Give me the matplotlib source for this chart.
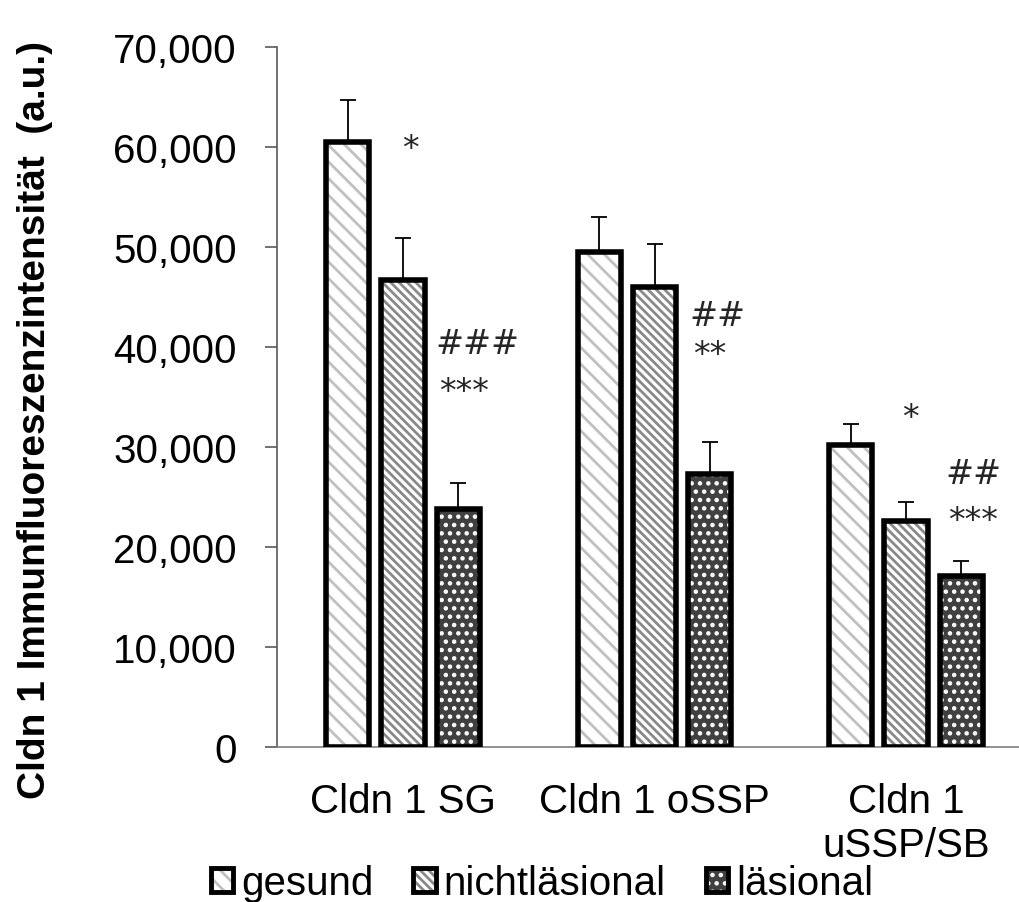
import numpy as np
import matplotlib
matplotlib.use("Agg")
import matplotlib.pyplot as plt
from matplotlib.patches import Patch
from matplotlib.legend_handler import HandlerTuple
from matplotlib.ticker import StrMethodFormatter

# ---------------------------
# Data
# ---------------------------
groups = ["Cldn 1 SG", "Cldn 1 oSSP", "Cldn 1\nuSSP/SB"]
series = ["gesund", "nichtläsional", "läsional"]

gesund = [60550, 49550, 30250]
nichtlaesional = [46750, 46050, 22650]
laesional = [23850, 27300, 17100]

err_gesund = [4150, 3500, 2050]
err_nichtlaesional = [4150, 4250, 1850]
err_laesional = [2550, 3200, 1500]

# significance marks: (group, x offset, y, text)
marks = [
    (0, 0.028, 59800, "*"),
    (0, 0.294, 40300, "###"),
    (0, 0.243, 35500, "***"),
    (1, 0.25, 43100, "##"),
    (1, 0.218, 39200, "**"),
    (2, 0.016, 32900, "*"),
    (2, 0.266, 27300, "##"),
    (2, 0.266, 22600, "***"),
]

plt.rcParams["font.family"] = ["Liberation Sans", "DejaVu Sans"]
plt.rcParams["hatch.linewidth"] = 2.0

fig = plt.figure(figsize=(10.19, 9.03), dpi=100)
W, H = 1019, 903
ax = fig.add_axes([277 / W, 1 - 748 / H, (W - 277) / W, 700 / H])

x = np.arange(len(groups))
width = 0.172
offset = 0.22

styles = [
    dict(color="white", hatch_color="#c0c0c0", hatch="\\\\"),
    dict(color="white", hatch_color="#8a8a8a", hatch="\\\\\\\\"),
    dict(color="#404040", hatch_color="white", hatch=".."),
]
values = [gesund, nichtlaesional, laesional]
errors = [err_gesund, err_nichtlaesional, err_laesional]

handles = []
for i, (vals, errs, st) in enumerate(zip(values, errors, styles)):
    xs = x + (i - 1) * offset
    ax.errorbar(xs, vals, yerr=[np.zeros(len(errs)), errs], fmt="none",
                ecolor="black", elinewidth=1.3, capsize=6, capthick=1.3, zorder=1)
    ax.bar(xs, vals, width, color=st["color"], edgecolor=st["hatch_color"],
           hatch=st["hatch"], linewidth=0, zorder=2)
    ax.bar(xs, vals, width, fill=False, edgecolor="black", linewidth=4.0, zorder=3)
    h1 = Patch(facecolor=st["color"], edgecolor=st["hatch_color"], hatch=st["hatch"], linewidth=0)
    h2 = Patch(fill=False, edgecolor="black", linewidth=3.5)
    handles.append((h1, h2))

for g, dx, y, t in marks:
    ax.text(g + dx, y, t, ha="center", va="center", fontsize=24,
            family="DejaVu Sans", color="#262626")

ax.set_xlim(-0.501, -0.501 + 742 / 251.5)
ax.set_ylim(0, 70000)
ax.set_yticks(np.arange(0, 70001, 10000))
ax.yaxis.set_major_formatter(StrMethodFormatter("{x:,.0f}"))
ax.set_xticks(x)
ax.set_xticklabels(groups)

for s in ["top", "right"]:
    ax.spines[s].set_visible(False)
ax.spines["left"].set_color("#595959")
ax.spines["left"].set_linewidth(1.2)
ax.spines["bottom"].set_color("#7f7f7f")
ax.spines["bottom"].set_linewidth(1.2)
ax.tick_params(axis="y", length=9, width=1.2, color="#595959", pad=20, labelsize=29)
ax.tick_params(axis="x", length=0, pad=25, labelsize=29)

fig.text(35 / W, 1 - 420 / H, "Cldn 1 Immunfluoreszenzintensität  (a.u.)",
         rotation=90, ha="center", va="center", fontsize=28, fontweight="bold")

fig.legend(handles, series, handler_map={tuple: HandlerTuple(ndivide=1)},
           loc="center", bbox_to_anchor=(542 / W, 1 - 884 / H), ncol=3,
           frameon=False, fontsize=29, handlelength=0.55, handleheight=0.55,
           handletextpad=0.2, columnspacing=1.0, borderpad=0, borderaxespad=0)

fig.savefig("out.png", dpi=100)
